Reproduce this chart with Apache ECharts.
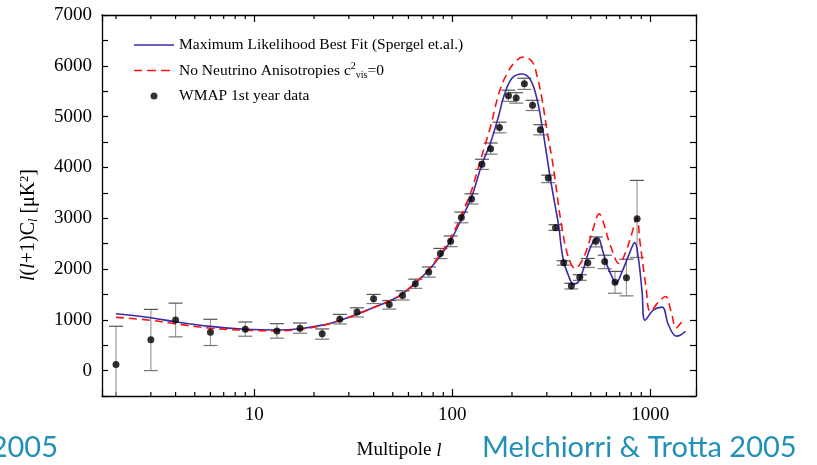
<!DOCTYPE html>
<html>
<head>
<meta charset="utf-8">
<script src="https://cdn.jsdelivr.net/npm/echarts@6/dist/echarts.min.js"></script>
<style>
html, body { margin: 0; padding: 0; background: #fff; }
#chart { width: 817px; height: 465px; }
</style>
</head>
<body>
<div id="chart"></div>
<script>
// best fit curve (Spergel et al.)
var blueL = [2, 3, 4, 6, 9, 13, 17, 22, 27, 33, 40, 50, 56, 65, 76, 87, 98, 111, 125, 141, 156, 172, 182, 200, 225, 248, 268, 284, 300, 312, 325, 344, 362, 385, 410, 435, 460, 500, 542, 575, 604, 640, 668, 720, 778, 834, 870, 908, 940, 1038, 1146, 1233, 1352, 1420, 1503];
var blueV = [1120, 1040, 960, 870, 815, 800, 825, 895, 990, 1110, 1240, 1400, 1510, 1720, 1980, 2260, 2560, 2980, 3420, 4060, 4490, 5040, 5400, 5755, 5840, 5723, 5332, 4811, 4225, 3800, 3400, 2858, 2207, 1880, 1699, 1760, 2012, 2440, 2617, 2350, 2076, 1850, 1719, 1950, 2272, 2520, 2207, 1556, 990, 1197, 1250, 904, 678, 700, 775];

// no neutrino anisotropies
var redL = [2, 3, 4, 6, 9, 13, 17, 22, 27, 33, 40, 50, 56, 65, 76, 87, 98, 111, 125, 133, 144, 156, 172, 189, 208, 228, 253, 268, 284, 300, 319, 330, 356, 387, 418, 450, 479, 515, 552, 570, 628, 697, 750, 792, 857, 882, 950, 1000, 1100, 1191, 1280, 1352, 1460, 1503];
var redV = [1050, 990, 920, 835, 795, 782, 810, 885, 985, 1110, 1240, 1400, 1515, 1730, 1995, 2290, 2610, 3050, 3550, 3900, 4355, 4811, 5463, 5853, 6080, 6172, 6080, 5787, 5332, 4746, 4160, 3770, 2858, 2207, 2012, 2150, 2402, 2800, 3086, 3002, 2467, 2109, 2330, 2598, 3002, 2598, 1654, 1166, 1350, 1459, 1120, 840, 957, 945];

// WMAP 1st year points with error bars
var ptL = [2, 3, 4, 6, 9, 13, 17, 22, 27, 33, 40, 48, 56, 65, 76, 87, 98, 111, 125, 141, 156, 173, 192, 210, 231, 254, 278, 305, 332, 365, 399, 440, 483, 530, 588, 663, 757, 857];
var ptV = [120, 605, 996, 755, 814, 781, 833, 723, 1010, 1152, 1412, 1302, 1479, 1712, 1940, 2305, 2545, 3014, 3379, 4062, 4369, 4785, 5410, 5365, 5645, 5221, 4740, 3789, 2812, 2122, 1667, 1836, 2122, 2545, 2148, 1738, 1830, 2988];
var ptLo = [-500, 0, 664, 494, 677, 638, 736, 619, 918, 1055, 1320, 1211, 1390, 1620, 1840, 2205, 2440, 2910, 3280, 3960, 4260, 4680, 5300, 5265, 5535, 5120, 4640, 3700, 2760, 2076, 1607, 1777, 2030, 2435, 2006, 1523, 1471, 2227];
var ptHi = [873, 1205, 1328, 1010, 957, 924, 937, 820, 1107, 1236, 1500, 1380, 1570, 1800, 2040, 2405, 2650, 3120, 3480, 4160, 4480, 4890, 5520, 5470, 5755, 5320, 4840, 3848, 2871, 2162, 1719, 1888, 2207, 2631, 2272, 1953, 2193, 3744];

var minorTicks = [2, 3, 4, 5, 6, 7, 8, 9, 20, 30, 40, 50, 60, 70, 80, 90, 200, 300, 400, 500, 600, 700, 800, 900];

var X_MIN = 1.7, X_MAX = 1700, Y_MIN = -500, Y_MAX = 7000;
var serif = "'Liberation Serif', 'DejaVu Serif', serif";
var teal = "#2390b6";
var blue = "#3a2ca6", red = "#ff1010";

function zip(a, b) {
    var out = [];
    for (var i = 0; i < a.length; i++) out.push([a[i], b[i]]);
    return out;
}

var errData = [];
for (var i = 0; i < ptL.length; i++) errData.push([ptL[i], ptLo[i], ptHi[i]]);

function renderErr(params, api) {
    var x = api.value(0);
    var lo = api.coord([x, Math.max(api.value(1), Y_MIN)]);
    var hi = api.coord([x, api.value(2)]);
    var w = 7;
    var kids = [
        { type: "line", shape: { x1: lo[0], y1: lo[1], x2: hi[0], y2: hi[1] }, style: { stroke: "#9a9a9a", lineWidth: 1.2 } },
        { type: "line", shape: { x1: hi[0] - w, y1: hi[1], x2: hi[0] + w, y2: hi[1] }, style: { stroke: "#555", lineWidth: 1.2 } }
    ];
    if (api.value(1) > Y_MIN) {
        kids.push({ type: "line", shape: { x1: lo[0] - w, y1: lo[1], x2: lo[0] + w, y2: lo[1] }, style: { stroke: "#777", lineWidth: 1.2 } });
    }
    return { type: "group", children: kids };
}

function renderMinor(params, api) {
    var b = api.coord([api.value(0), Y_MIN]);
    var t = api.coord([api.value(0), Y_MAX]);
    return {
        type: "group",
        children: [
            { type: "line", shape: { x1: b[0], y1: b[1], x2: b[0], y2: b[1] - 4 }, style: { stroke: "#000", lineWidth: 1.2 } },
            { type: "line", shape: { x1: t[0], y1: t[1], x2: t[0], y2: t[1] + 4 }, style: { stroke: "#000", lineWidth: 1.2 } }
        ]
    };
}

function decadeLabel(v) {
    var e = Math.log10(v);
    return Math.abs(e - Math.round(e)) < 1e-6 ? String(Math.round(v)) : "";
}

var axisLine = { show: true, onZero: false, lineStyle: { color: "#000", width: 1.3 } };

// legend icons: thin bars, solid and dashed
var solidIcon = "path://M0,6.3L40,6.3L40,7.7L0,7.7Z";
var dashedIcon = "path://M0,6.3h8v1.4h-8zM13,6.3h9v1.4h-9zM27,6.3h9v1.4h-9zM40,6.3h0v1.4h0z";
var dotIcon = "path://M0,0L0,0M40,14L40,14M20,3.5A3.5,3.5,0,1,1,20,10.5A3.5,3.5,0,1,1,20,3.5Z";

var option = {
    animation: false,
    backgroundColor: "#fff",
    grid: { left: 102, top: 15, right: 121, bottom: 66, containLabel: false },
    legend: {
        orient: "vertical",
        left: 134,
        top: 37,
        padding: 0,
        itemWidth: 40,
        itemHeight: 14,
        itemGap: 8,
        selectedMode: false,
        textStyle: {
            fontFamily: serif, fontSize: 15.5, color: "#000",
            rich: {
                sup: { fontFamily: serif, fontSize: 10, padding: [0, 0, 9, 0] },
                sub: { fontFamily: serif, fontSize: 10, padding: [9, 0, 0, 0] }
            }
        },
        formatter: function (name) {
            if (name.indexOf("No Neutrino") === 0) return "No Neutrino Anisotropies c{sup|2}{sub|vis}=0";
            return name;
        },
        data: [
            { name: "Maximum Likelihood Best Fit (Spergel et.al.)", icon: solidIcon },
            { name: "No Neutrino Anisotropies c2vis=0", icon: dashedIcon },
            { name: "WMAP 1st year data", icon: dotIcon }
        ]
    },
    xAxis: [
        {
            type: "log", logBase: 10, min: X_MIN, max: X_MAX,
            axisLine: axisLine,
            axisTick: { inside: true, length: 7, lineStyle: { color: "#000", width: 1.2 } },
            axisLabel: { formatter: decadeLabel, fontFamily: serif, fontSize: 19, color: "#000", margin: 10 },
            splitLine: { show: false },
            name: "Multipole {i|l}", nameLocation: "middle", nameGap: 45,
            nameTextStyle: { fontFamily: serif, fontSize: 19, color: "#000", rich: { i: { fontFamily: serif, fontStyle: "italic", fontSize: 19 } } }
        },
        {
            type: "log", logBase: 10, min: X_MIN, max: X_MAX, position: "top",
            axisLine: axisLine,
            axisTick: { inside: true, length: 7, lineStyle: { color: "#000", width: 1.2 } },
            axisLabel: { show: false },
            splitLine: { show: false }
        }
    ],
    yAxis: [
        {
            type: "value", min: Y_MIN, max: Y_MAX, interval: 500,
            axisLine: axisLine,
            axisTick: { inside: true, length: 6, lineStyle: { color: "#000", width: 1.2 } },
            axisLabel: {
                formatter: function (v) { return v % 1000 === 0 ? String(v) : ""; },
                fontFamily: serif, fontSize: 19, color: "#000", margin: 10
            },
            splitLine: { show: false }
        },
        {
            type: "value", min: Y_MIN, max: Y_MAX, interval: 500, position: "right",
            axisLine: axisLine,
            axisTick: { inside: true, length: 6, lineStyle: { color: "#000", width: 1.2 } },
            axisLabel: { show: false },
            splitLine: { show: false }
        }
    ],
    graphic: [
        {
            type: "text", x: 29, y: 225, rotation: Math.PI / 2,
            style: {
                text: "{i|l}({i|l}+1)C{si|l} [μK{sup|2}]",
                fontFamily: serif, fontSize: 20, fill: "#000", align: "center", verticalAlign: "middle",
                rich: {
                    i: { fontFamily: serif, fontStyle: "italic", fontSize: 20 },
                    si: { fontFamily: serif, fontStyle: "italic", fontSize: 12, padding: [9, 0, 0, 0] },
                    sup: { fontFamily: serif, fontSize: 12, padding: [0, 0, 9, 0] }
                }
            }
        },
        {
            type: "text", left: 482, top: 433,
            style: { text: "Melchiorri & Trotta 2005", fontFamily: "Lato, 'Open Sans', sans-serif", fontSize: 29, fill: teal }
        },
        {
            type: "text", right: 759, top: 433,
            style: { text: "2005", fontFamily: "Lato, 'Open Sans', sans-serif", fontSize: 29, fill: teal }
        }
    ],
    series: [
        {
            type: "custom", name: "minor", renderItem: renderMinor, silent: true,
            data: minorTicks.map(function (v) { return [v, Y_MIN]; }), z: 1
        },
        {
            type: "custom", name: "err", renderItem: renderErr, silent: true,
            encode: { x: 0, y: [1, 2] }, data: errData, z: 2
        },
        {
            name: "Maximum Likelihood Best Fit (Spergel et.al.)", type: "line",
            data: zip(blueL, blueV), symbol: "none", smooth: 0.4,
            lineStyle: { color: blue, width: 1.6 }, itemStyle: { color: blue }, z: 3
        },
        {
            name: "No Neutrino Anisotropies c2vis=0", type: "line",
            data: zip(redL, redV), symbol: "none", smooth: 0.4,
            lineStyle: { color: red, width: 1.6, type: [8, 5] }, itemStyle: { color: red }, z: 4
        },
        {
            name: "WMAP 1st year data", type: "scatter",
            data: zip(ptL, ptV), symbol: "circle", symbolSize: 7,
            itemStyle: { color: "#000" }, z: 5
        }
    ]
};

var chart = echarts.init(document.getElementById("chart"));
chart.setOption(option);
</script>
</body>
</html>
